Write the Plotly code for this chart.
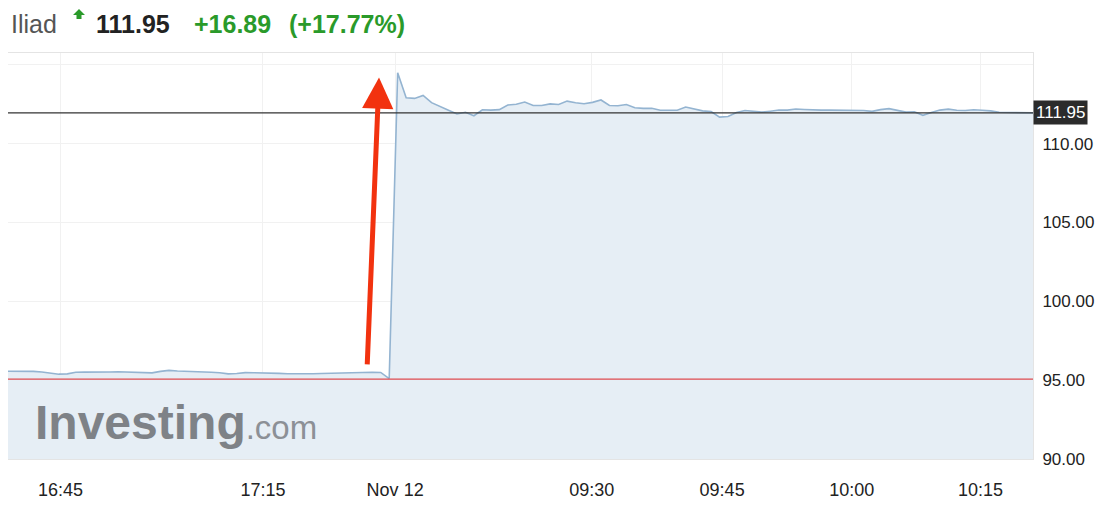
import plotly.graph_objects as go

# ---------------- data ----------------
day1_prices = [95.57, 95.57, 95.58, 95.56, 95.52, 95.43, 95.38, 95.40, 95.50, 95.51,
               95.50, 95.52, 95.52, 95.53, 95.51, 95.50, 95.48, 95.46, 95.56, 95.62,
               95.58, 95.57, 95.55, 95.54, 95.50, 95.47, 95.40, 95.42, 95.48, 95.47,
               95.46, 95.48, 95.43, 95.41, 95.40, 95.40, 95.41, 95.42, 95.44, 95.46,
               95.48, 95.50, 95.50, 95.50, 95.49, 95.10]
day2_prices = [114.50, 112.91, 112.87, 113.06, 112.60, 112.34, 112.12, 111.88, 111.99, 111.77,
               112.15, 112.13, 112.16, 112.45, 112.50, 112.64, 112.42, 112.42, 112.52, 112.48,
               112.70, 112.60, 112.53, 112.62, 112.77, 112.42, 112.40, 112.48, 112.28, 112.24,
               112.24, 112.12, 112.10, 112.12, 112.32, 112.20, 112.08, 112.03, 111.68, 111.72,
               111.98, 112.10, 112.05, 112.00, 112.06, 112.13, 112.13, 112.20, 112.17, 112.13,
               112.13, 112.13, 112.12, 112.09, 112.12, 112.10, 112.05, 112.16, 112.22, 112.12,
               112.00, 112.02, 111.80, 111.97, 112.13, 112.19, 112.12, 112.10, 112.15, 112.12,
               112.08, 111.99, 111.98, 111.98, 111.97, 111.95]
tick_pos = [6.2, 30.1, 45.7, 68.9, 84.3, 99.6, 114.8]
tick_labels = ["16:45", "17:15", "Nov 12", "09:30", "09:45", "10:00", "10:15"]
y_ticks = [90, 95, 100, 105, 110, 115]
y_labels = ["90.00", "95.00", "100.00", "105.00", "110.00", ""]
last_price = 111.95
prev_close = 95.06
change = "+16.89"
change_pct = "(+17.77%)"
name = "Iliad"

prices = day1_prices + day2_prices
idx = list(range(len(prices)))

FONT = "Liberation Sans, Arial, Helvetica, sans-serif"
GREEN = "#2a9a2a"

# page body has an 8px margin; plot area spans page x 8..1033, y 53..459
def px_x(px):
    return (px - 8) / 1025

def px_y(py):
    return (459 - py) / 406

fig = go.Figure()
fig.add_trace(go.Scatter(
    x=idx, y=prices, mode="lines",
    line=dict(color="#94b4d1", width=1.6),
    fill="tozeroy", fillcolor="#e6eef5",
    hoverinfo="skip", showlegend=False,
))

# reference lines
fig.add_shape(type="line", xref="paper", yref="y", x0=0, x1=1,
              y0=prev_close, y1=prev_close, line=dict(color="#de4a4f", width=1.2))
fig.add_shape(type="line", xref="paper", yref="y", x0=0, x1=1,
              y0=last_price, y1=last_price, line=dict(color="#333333", width=1.2))

# last price tag
fig.add_annotation(xref="paper", yref="y", x=1.0, y=last_price, xanchor="left",
                   yanchor="middle", text=f"{last_price:.2f}", showarrow=False,
                   bgcolor="#2b2b2b", font=dict(color="white", size=17, family=FONT),
                   borderpad=2)

# red arrow
fig.add_annotation(x=43.8, y=114.2, ax=42.4, ay=95.9, axref="x", ayref="y",
                   xref="x", yref="y", text="", showarrow=True,
                   arrowhead=2, arrowsize=1.25, arrowwidth=5, arrowcolor="#f2320f")

# title
fig.add_annotation(xref="paper", yref="paper", x=px_x(9), y=px_y(24),
                   xanchor="left", yanchor="middle", text=name, showarrow=False,
                   font=dict(size=25, color="#555555", family=FONT))
# small green "up" icon (triangle head + stem)
fig.add_shape(type="path", xref="paper", yref="paper", layer="above",
              path=(f"M {px_x(73)} {px_y(15)} L {px_x(79)} {px_y(9)} L {px_x(85)} {px_y(15)} "
                    f"L {px_x(81.5)} {px_y(15)} L {px_x(81.5)} {px_y(19)} L {px_x(76.5)} {px_y(19)} "
                    f"L {px_x(76.5)} {px_y(15)} Z"),
              fillcolor=GREEN, line=dict(width=0))
fig.add_annotation(xref="paper", yref="paper", x=px_x(94), y=px_y(24),
                   xanchor="left", yanchor="middle", text=f"<b>{last_price:.2f}</b>",
                   showarrow=False, font=dict(size=25, color="#222222", family=FONT))
fig.add_annotation(xref="paper", yref="paper", x=px_x(192), y=px_y(24),
                   xanchor="left", yanchor="middle", text=f"<b>{change}</b>",
                   showarrow=False, font=dict(size=25, color=GREEN, family=FONT))
fig.add_annotation(xref="paper", yref="paper", x=px_x(287), y=px_y(24),
                   xanchor="left", yanchor="middle", text=f"<b>{change_pct}</b>",
                   showarrow=False, font=dict(size=25, color=GREEN, family=FONT))

# watermark
fig.add_annotation(xref="paper", yref="paper", x=px_x(33), y=px_y(451),
                   xanchor="left", yanchor="bottom", showarrow=False,
                   text="<b>Investing</b><span style='font-size:33px;color:#8c9096'>.com</span>",
                   font=dict(size=48, color="#7e8287", family=FONT))

fig.update_layout(
    width=1112, height=523,
    margin=dict(l=0, r=87, t=45, b=72),
    paper_bgcolor="white", plot_bgcolor="white",
    font=dict(family=FONT, color="#222222"),
    xaxis=dict(range=[0, len(prices) - 1], tickmode="array", tickvals=tick_pos,
               ticktext=tick_labels, showgrid=True, gridcolor="#f1f1f1",
               ticks="outside", ticklen=14, tickcolor="rgba(0,0,0,0)",
               tickfont=dict(size=18, color="#222222"), zeroline=False,
               showline=True, linecolor="#e4e4e4", mirror=True),
    yaxis=dict(range=[90, 115.75], side="right", tickmode="array", tickvals=y_ticks,
               ticktext=y_labels, showgrid=True, gridcolor="#f1f1f1",
               ticks="outside", ticklen=5, tickcolor="rgba(0,0,0,0)",
               tickfont=dict(size=17, color="#222222"), zeroline=False,
               showline=True, linecolor="#e4e4e4", mirror=True),
)

fig.write_html("out.html")
